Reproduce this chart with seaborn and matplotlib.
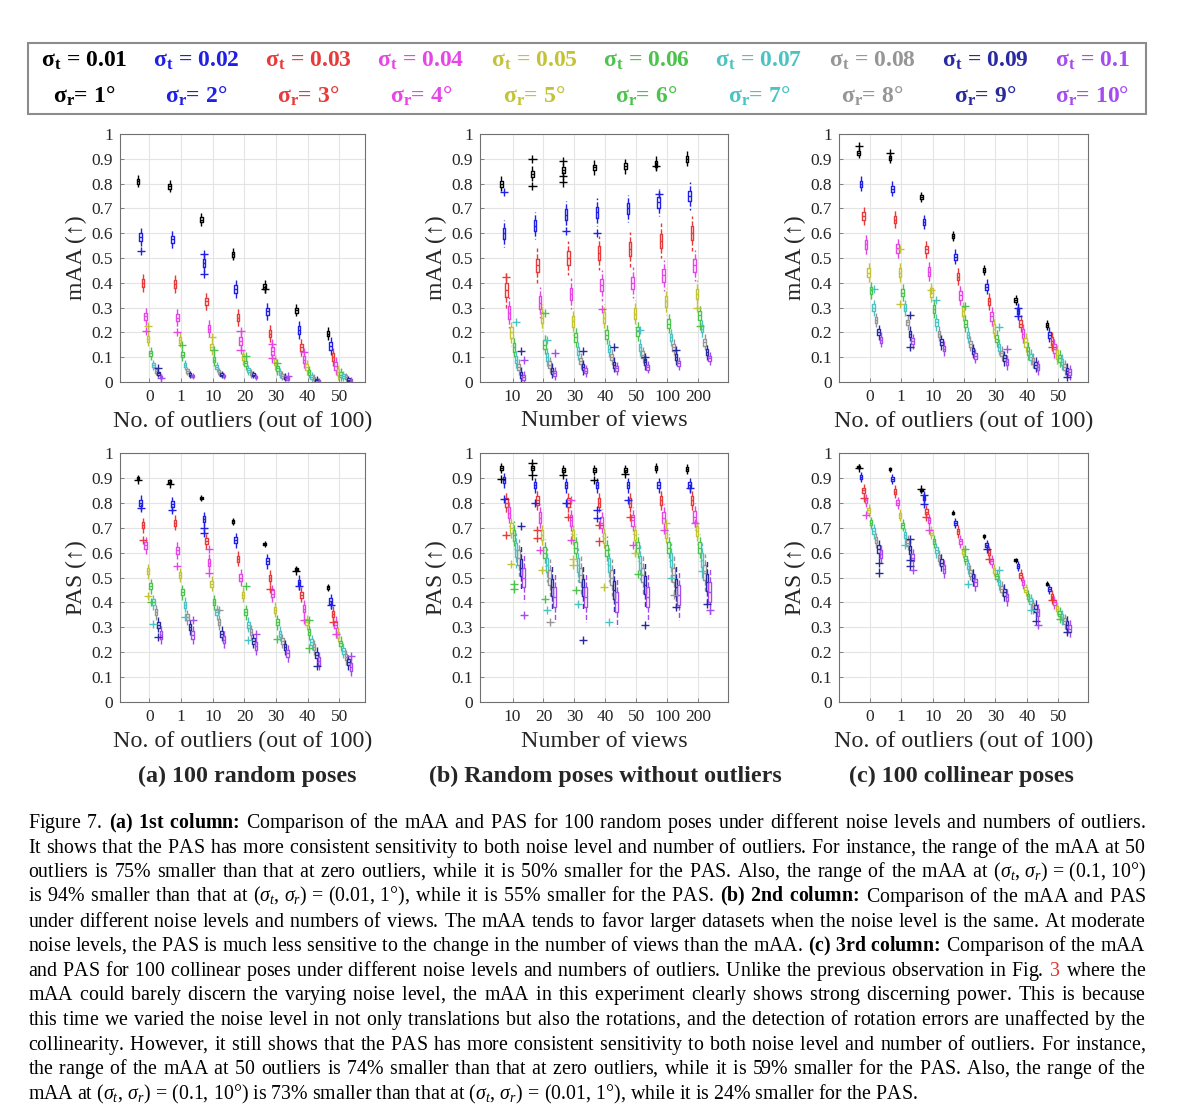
import numpy as np
import pandas as pd
import matplotlib
matplotlib.use('Agg')
import matplotlib.pyplot as plt
import seaborn as sns
from matplotlib.patches import Rectangle

sns.set_theme(style='white')
plt.rcParams['font.family'] = ['Liberation Serif', 'DejaVu Serif']
plt.rcParams['mathtext.fontset'] = 'custom'
plt.rcParams['mathtext.rm'] = 'Liberation Serif'
plt.rcParams['mathtext.it'] = 'Liberation Serif:italic'
plt.rcParams['mathtext.bf'] = 'Liberation Serif:bold'

# noise levels
sig_t = ['0.01', '0.02', '0.03', '0.04', '0.05', '0.06', '0.07', '0.08', '0.09', '0.1']
sig_r = ['1°', '2°', '3°', '4°', '5°', '6°', '7°', '8°', '9°', '10°']
level_colors = ['#000000', '#1f1fe6', '#e83a3a', '#e646e6', '#c3c337',
                '#4cc34c', '#4cc3c3', '#969696', '#2a2aa0', '#a44cf0']

outlier_groups = ['0', '1', '10', '20', '30', '40', '50']
view_groups = ['10', '20', '30', '40', '50', '100', '200']

# medians, one row per group, one value per noise level
maa_rand = [
    [0.81, 0.585, 0.40, 0.265, 0.175, 0.115, 0.07, 0.045, 0.035, 0.02],
    [0.79, 0.575, 0.395, 0.26, 0.17, 0.11, 0.07, 0.045, 0.03, 0.025],
    [0.655, 0.48, 0.325, 0.215, 0.14, 0.09, 0.06, 0.04, 0.03, 0.025],
    [0.515, 0.375, 0.26, 0.165, 0.10, 0.075, 0.05, 0.035, 0.03, 0.02],
    [0.385, 0.285, 0.195, 0.125, 0.08, 0.055, 0.035, 0.025, 0.02, 0.015],
    [0.29, 0.21, 0.14, 0.09, 0.06, 0.04, 0.02, 0.015, 0.008, 0.005],
    [0.195, 0.145, 0.10, 0.065, 0.04, 0.03, 0.025, 0.02, 0.01, 0.008],
]
maa_views = [
    [0.80, 0.60, 0.37, 0.28, 0.20, 0.14, 0.09, 0.06, 0.03, 0.02],
    [0.84, 0.63, 0.47, 0.32, 0.26, 0.15, 0.10, 0.07, 0.045, 0.035],
    [0.855, 0.675, 0.50, 0.355, 0.245, 0.18, 0.125, 0.085, 0.06, 0.045],
    [0.865, 0.685, 0.52, 0.39, 0.26, 0.19, 0.135, 0.10, 0.07, 0.055],
    [0.87, 0.70, 0.535, 0.40, 0.275, 0.205, 0.14, 0.11, 0.08, 0.06],
    [0.88, 0.725, 0.57, 0.43, 0.325, 0.235, 0.18, 0.14, 0.10, 0.075],
    [0.90, 0.75, 0.60, 0.47, 0.355, 0.27, 0.215, 0.16, 0.12, 0.095],
]
maa_coll = [
    [0.925, 0.80, 0.67, 0.555, 0.44, 0.37, 0.30, 0.25, 0.20, 0.17],
    [0.905, 0.78, 0.655, 0.54, 0.44, 0.36, 0.30, 0.24, 0.195, 0.165],
    [0.745, 0.645, 0.535, 0.445, 0.36, 0.295, 0.24, 0.195, 0.16, 0.135],
    [0.59, 0.505, 0.425, 0.35, 0.285, 0.235, 0.19, 0.155, 0.125, 0.105],
    [0.45, 0.385, 0.325, 0.265, 0.215, 0.175, 0.14, 0.115, 0.095, 0.08],
    [0.33, 0.285, 0.235, 0.195, 0.16, 0.125, 0.10, 0.085, 0.07, 0.06],
    [0.23, 0.19, 0.165, 0.135, 0.11, 0.095, 0.08, 0.06, 0.045, 0.04],
]
pas_rand = [
    [0.90, 0.80, 0.71, 0.63, 0.525, 0.465, 0.40, 0.36, 0.31, 0.27],
    [0.885, 0.795, 0.72, 0.61, 0.51, 0.44, 0.39, 0.34, 0.30, 0.27],
    [0.82, 0.735, 0.645, 0.56, 0.475, 0.40, 0.36, 0.32, 0.275, 0.25],
    [0.725, 0.65, 0.575, 0.50, 0.43, 0.36, 0.31, 0.28, 0.245, 0.225],
    [0.635, 0.565, 0.50, 0.435, 0.37, 0.32, 0.275, 0.245, 0.22, 0.195],
    [0.535, 0.48, 0.43, 0.375, 0.32, 0.28, 0.24, 0.22, 0.19, 0.165],
    [0.46, 0.405, 0.355, 0.31, 0.27, 0.235, 0.205, 0.18, 0.16, 0.14],
]
pas_views = [
    [0.94, 0.89, 0.80, 0.76, 0.70, 0.67, 0.61, 0.58, 0.54, 0.50],
    [0.94, 0.87, 0.81, 0.74, 0.67, 0.60, 0.55, 0.50, 0.46, 0.42],
    [0.93, 0.87, 0.80, 0.73, 0.67, 0.62, 0.55, 0.51, 0.46, 0.42],
    [0.93, 0.87, 0.80, 0.72, 0.66, 0.61, 0.55, 0.50, 0.45, 0.40],
    [0.93, 0.87, 0.80, 0.73, 0.67, 0.62, 0.56, 0.51, 0.47, 0.42],
    [0.94, 0.87, 0.81, 0.74, 0.68, 0.62, 0.57, 0.51, 0.46, 0.43],
    [0.935, 0.87, 0.81, 0.745, 0.685, 0.62, 0.57, 0.52, 0.48, 0.44],
]
pas_coll = [
    [0.945, 0.905, 0.85, 0.81, 0.77, 0.72, 0.685, 0.65, 0.615, 0.595],
    [0.935, 0.895, 0.845, 0.80, 0.75, 0.71, 0.67, 0.64, 0.61, 0.58],
    [0.85, 0.82, 0.765, 0.73, 0.68, 0.645, 0.61, 0.58, 0.56, 0.535],
    [0.76, 0.72, 0.685, 0.645, 0.605, 0.575, 0.545, 0.52, 0.50, 0.48],
    [0.665, 0.63, 0.60, 0.565, 0.53, 0.505, 0.48, 0.455, 0.44, 0.42],
    [0.57, 0.545, 0.51, 0.48, 0.45, 0.425, 0.405, 0.385, 0.375, 0.36],
    [0.475, 0.455, 0.425, 0.40, 0.375, 0.355, 0.34, 0.325, 0.31, 0.295],
]

# half box height per noise level
hb_maa_rand = [0.010, 0.015, 0.015, 0.015, 0.012, 0.010, 0.008, 0.007, 0.006, 0.005]
hb_maa_views = [0.012, 0.022, 0.028, 0.025, 0.022, 0.018, 0.015, 0.013, 0.012, 0.010]
hb_maa_coll = [0.008, 0.012, 0.015, 0.018, 0.018, 0.015, 0.013, 0.012, 0.012, 0.012]
hb_pas_rand = [0.005, 0.012, 0.012, 0.014, 0.012, 0.012, 0.012, 0.012, 0.012, 0.015]
hb_pas_views = [0.008, 0.012, 0.018, 0.022, 0.020, 0.022, 0.028, 0.030, 0.035, 0.040]
hb_pas_coll = [0.004, 0.008, 0.010, 0.010, 0.010, 0.010, 0.012, 0.012, 0.015, 0.015]

# outliers: (group index, noise level index, value)
fl_maa_rand = [(0, 1, 0.53), (0, 3, 0.205), (0, 4, 0.225), (0, 8, 0.055), (0, 9, 0.015),
               (1, 3, 0.20), (1, 5, 0.15), (2, 1, 0.515), (2, 1, 0.435), (2, 4, 0.18),
               (2, 5, 0.13), (3, 3, 0.205), (3, 3, 0.13), (3, 5, 0.105), (4, 0, 0.375),
               (4, 3, 0.155), (4, 3, 0.095), (4, 5, 0.075), (4, 9, 0.025), (5, 3, 0.12)]
fl_maa_views = [(0, 1, 0.765), (0, 2, 0.425), (0, 6, 0.24), (0, 8, 0.125), (0, 9, 0.09),
                (1, 0, 0.90), (1, 0, 0.79), (1, 5, 0.28), (1, 6, 0.17), (1, 9, 0.115),
                (2, 0, 0.89), (2, 0, 0.83), (2, 0, 0.805), (2, 1, 0.61), (2, 8, 0.125),
                (3, 1, 0.60), (3, 3, 0.295), (3, 8, 0.14), (4, 6, 0.21), (4, 8, 0.10),
                (5, 0, 0.87), (5, 1, 0.76), (5, 8, 0.13), (6, 4, 0.30), (6, 5, 0.225)]
fl_maa_coll = [(0, 0, 0.95), (0, 6, 0.375), (1, 0, 0.925), (1, 4, 0.535), (1, 4, 0.315),
               (1, 8, 0.27), (1, 8, 0.14), (2, 4, 0.37), (2, 6, 0.33), (3, 5, 0.305),
               (4, 6, 0.22), (4, 9, 0.135), (5, 1, 0.30), (5, 1, 0.265), (6, 2, 0.14),
               (6, 8, 0.02)]
fl_pas_rand = [(0, 0, 0.89), (0, 1, 0.78), (0, 2, 0.65), (0, 4, 0.425), (0, 5, 0.40),
               (0, 6, 0.315), (0, 8, 0.26), (1, 0, 0.875), (1, 1, 0.77), (1, 3, 0.545),
               (1, 6, 0.34), (1, 9, 0.33), (2, 1, 0.70), (2, 1, 0.68), (2, 3, 0.615),
               (2, 3, 0.52), (2, 7, 0.37), (3, 5, 0.465), (3, 6, 0.25), (3, 9, 0.275),
               (4, 2, 0.455), (4, 5, 0.255), (5, 0, 0.525), (5, 1, 0.465), (5, 3, 0.33),
               (5, 5, 0.33), (5, 5, 0.215), (5, 8, 0.145), (6, 1, 0.39), (6, 2, 0.32),
               (6, 3, 0.275), (6, 9, 0.185)]
fl_pas_views = [(0, 0, 0.895), (0, 1, 0.815), (0, 2, 0.67), (0, 4, 0.555), (0, 5, 0.475),
                (0, 5, 0.455), (0, 8, 0.705), (0, 9, 0.35), (1, 0, 0.96), (1, 0, 0.91),
                (1, 1, 0.80), (1, 2, 0.69), (1, 2, 0.66), (1, 3, 0.61), (1, 4, 0.53),
                (1, 5, 0.415), (1, 6, 0.37), (1, 7, 0.32), (2, 0, 0.91), (2, 1, 0.80),
                (2, 2, 0.745), (2, 3, 0.81), (2, 3, 0.65), (2, 4, 0.575), (2, 4, 0.55),
                (2, 5, 0.45), (2, 6, 0.395), (2, 8, 0.25), (3, 0, 0.89), (3, 1, 0.77),
                (3, 1, 0.74), (3, 2, 0.645), (3, 2, 0.71), (3, 4, 0.46), (3, 6, 0.32),
                (4, 0, 0.915), (4, 1, 0.81), (4, 2, 0.745), (4, 3, 0.63), (4, 4, 0.60),
                (4, 5, 0.515), (4, 8, 0.31), (5, 3, 0.69), (5, 4, 0.72), (5, 6, 0.50),
                (5, 7, 0.43), (5, 8, 0.38), (6, 1, 0.86), (6, 3, 0.72), (6, 6, 0.525),
                (6, 8, 0.395), (6, 9, 0.37)]
fl_pas_coll = [(0, 0, 0.94), (0, 2, 0.82), (0, 3, 0.75), (0, 8, 0.56), (0, 8, 0.52),
               (1, 6, 0.63), (1, 8, 0.655), (1, 8, 0.57), (1, 8, 0.545), (1, 9, 0.53),
               (2, 0, 0.855), (2, 1, 0.83), (2, 1, 0.795), (2, 2, 0.745), (2, 3, 0.69),
               (3, 5, 0.615), (3, 6, 0.475), (4, 1, 0.615), (4, 2, 0.575), (4, 6, 0.53),
               (5, 6, 0.37), (5, 8, 0.325), (5, 9, 0.31), (6, 2, 0.41), (6, 5, 0.335),
               (6, 8, 0.28)]

W, H = 1200, 1115
fig = plt.figure(figsize=(W / 100, H / 100), dpi=100)
pal = dict(zip(sig_t, level_colors))


def draw_panel(rect, groups, med, hb, fliers, xlim, ylab, xlab):
    ax = fig.add_axes(rect)
    rows = []
    for gi, g in enumerate(groups):
        for li in range(10):
            m, h = med[gi][li], hb[li]
            for v in (m - 2.5 * h, m - h, m, m + h, m + 2.5 * h):
                rows.append((g, sig_t[li], max(v, 0.0)))
    df = pd.DataFrame(rows, columns=['group', 'level', 'value'])
    fdf = pd.DataFrame([(groups[g], sig_t[l], v) for g, l, v in fliers],
                       columns=['group', 'level', 'value'])
    sns.boxplot(data=df, x='group', y='value', hue='level', order=groups,
                hue_order=sig_t, palette=pal, fill=False, width=0.8, gap=0,
                linewidth=1.0, showcaps=False, showfliers=False,
                whiskerprops={'linestyle': '--'}, legend=False, ax=ax)
    sns.stripplot(data=fdf, x='group', y='value', hue='level', order=groups,
                  hue_order=sig_t, palette=pal, dodge=True, jitter=False,
                  marker='+', size=6, linewidth=1, legend=False, ax=ax)
    ax.set_xlim(*xlim)
    ax.set_ylim(0, 1)
    ax.set_yticks(np.arange(0, 1.01, 0.1))
    ax.set_yticklabels(['0'] + ['%.1f' % v for v in np.arange(0.1, 0.95, 0.1)] + ['1'])
    ax.grid(True, color='#e4e4e4', lw=0.8)
    ax.set_axisbelow(True)
    for s in ax.spines.values():
        s.set_visible(True)
        s.set_color('#707070')
        s.set_linewidth(0.8)
    ax.tick_params(direction='in', length=3, width=0.6, color='#707070',
                   labelsize=12.5, pad=5, bottom=True, left=True)
    ax.set_xlabel(xlab, fontsize=17.3, labelpad=4)
    ax.set_ylabel(ylab, fontsize=17, labelpad=3)
    return ax


col_l = [0.100, 0.400, 0.699]
col_w = [0.204, 0.207, 0.208]
top_b, top_h = 0.6574, 0.2224
bot_b, bot_h = 0.3704, 0.2233
xl_out = 'No. of outliers (out of 100)'
xl_view = 'Number of views'

draw_panel([col_l[0], top_b, col_w[0], top_h], outlier_groups, maa_rand, hb_maa_rand,
           fl_maa_rand, (-0.93, 6.8), 'mAA (↑)', xl_out)
draw_panel([col_l[1], top_b, col_w[1], top_h], view_groups, maa_views, hb_maa_views,
           fl_maa_views, (-1.05, 6.97), 'mAA (↑)', xl_view)
draw_panel([col_l[2], top_b, col_w[2], top_h], outlier_groups, maa_coll, hb_maa_coll,
           fl_maa_coll, (-0.99, 6.96), 'mAA (↑)', xl_out)
draw_panel([col_l[0], bot_b, col_w[0], bot_h], outlier_groups, pas_rand, hb_pas_rand,
           fl_pas_rand, (-0.93, 6.8), 'PAS (↑)', xl_out)
draw_panel([col_l[1], bot_b, col_w[1], bot_h], view_groups, pas_views, hb_pas_views,
           fl_pas_views, (-1.05, 6.97), 'PAS (↑)', xl_view)
draw_panel([col_l[2], bot_b, col_w[2], bot_h], outlier_groups, pas_coll, hb_pas_coll,
           fl_pas_coll, (-0.99, 6.96), 'PAS (↑)', xl_out)

# legend box on top
fig.patches.append(Rectangle((28 / W, 1 - 114 / H), 1118 / W, 71 / H,
                             transform=fig.transFigure, fill=False,
                             edgecolor='#8c8c8c', lw=1.5))
leg_x = [84, 196, 308, 421, 534, 646, 759, 872, 985, 1092]
for i in range(10):
    fig.text(leg_x[i] / W, 1 - 61 / H, 'σ$_\\mathbf{t}$ = ' + sig_t[i], ha='center',
             va='center', fontsize=17, weight='bold', color=level_colors[i])
    fig.text(leg_x[i] / W, 1 - 96 / H, 'σ$_\\mathbf{r}$= ' + sig_r[i], ha='center',
             va='center', fontsize=17, weight='bold', color=level_colors[i])

# sub captions
fig.text(247 / W, 1 - 776 / H, '(a) 100 random poses', ha='center', va='center',
         fontsize=17.3, weight='bold')
fig.text(605 / W, 1 - 776 / H, '(b) Random poses without outliers', ha='center',
         va='center', fontsize=17.3, weight='bold')
fig.text(961 / W, 1 - 776 / H, '(c) 100 collinear poses', ha='center', va='center',
         fontsize=17.3, weight='bold')

# figure caption, justified
m1 = r'$(\sigma_t,\,\sigma_r)\,=\,(0.1,\,10°)$'
m2 = r'$(\sigma_t,\,\sigma_r)\,=\,(0.01,\,1°)$'
caption = [
    [('Figure 7.', 'n'), ('(a) 1st column:', 'b'), ('Comparison of the mAA and PAS for 100 random poses under different noise levels and numbers of outliers.', 'n')],
    [('It shows that the PAS has more consistent sensitivity to both noise level and number of outliers. For instance, the range of the mAA at 50', 'n')],
    [('outliers is 75% smaller than that at zero outliers, while it is 50% smaller for the PAS. Also, the range of the mAA at ' + m1, 'n')],
    [('is 94% smaller than that at ' + m2 + ', while it is 55% smaller for the PAS.', 'n'), ('(b) 2nd column:', 'b'), ('Comparison of the mAA and PAS', 'n')],
    [('under different noise levels and numbers of views. The mAA tends to favor larger datasets when the noise level is the same. At moderate', 'n')],
    [('noise levels, the PAS is much less sensitive to the change in the number of views than the mAA.', 'n'), ('(c) 3rd column:', 'b'), ('Comparison of the mAA', 'n')],
    [('and PAS for 100 collinear poses under different noise levels and numbers of outliers. Unlike the previous observation in Fig.', 'n'), ('3', 'r'), ('where the', 'n')],
    [('mAA could barely discern the varying noise level, the mAA in this experiment clearly shows strong discerning power. This is because', 'n')],
    [('this time we varied the noise level in not only translations but also the rotations, and the detection of rotation errors are unaffected by the', 'n')],
    [('collinearity. However, it still shows that the PAS has more consistent sensitivity to both noise level and number of outliers. For instance,', 'n')],
    [('the range of the mAA at 50 outliers is 74% smaller than that at zero outliers, while it is 59% smaller for the PAS. Also, the range of the', 'n')],
    [('mAA at ' + m1 + ' is 73% smaller than that at ' + m2 + ', while it is 24% smaller for the PAS.', 'n')],
]


def join_words(words, g):
    # one text per style run, word gaps set with mathtext \hspace
    if len(words) == 1:
        return words[0]
    return ('$\\hspace{%.4f}$' % g).join(words).replace('$$', '')


def style_kw(st, size):
    return dict(fontsize=size, va='baseline', family='Liberation Serif',
                weight='bold' if st == 'b' else 'normal',
                color='#e8322a' if st == 'r' else 'black')


cap_size = 14.3
x0, x1 = 28, 1146
g0 = 0.3
renderer = fig.canvas.get_renderer()
for k, line in enumerate(caption):
    yb = 1 - (828 + k * 24.64) / H
    segs = [(text.split(), st) for text, st in line]
    n_gaps = sum(len(w) - 1 for w, _ in segs) + len(segs) - 1
    size = cap_size
    while True:
        t1 = fig.text(0, 0, 'x$\\hspace{1}$x', **style_kw('n', size))
        t2 = fig.text(0, 0, 'x$\\hspace{2}$x', **style_kw('n', size))
        unit = t2.get_window_extent(renderer).width - t1.get_window_extent(renderer).width
        t1.remove()
        t2.remove()
        arts, natural = [], []
        for words, st in segs:
            a = fig.text(0, yb, join_words(words, g0), **style_kw(st, size))
            arts.append(a)
            natural.append(a.get_window_extent(renderer).width - (len(words) - 1) * g0 * unit)
        if k == len(caption) - 1:
            gap = 0.25 * size * 100 / 72
        else:
            gap = (x1 - x0 - sum(natural)) / n_gaps
        if gap >= 0.16 * size * 100 / 72:
            break
        for a in arts:
            a.remove()
        size -= 0.1
    x = x0
    for a, (words, st), nat in zip(arts, segs, natural):
        a.set_text(join_words(words, gap / unit))
        a.set_x(x / W)
        x += nat + (len(words) - 1) * gap + gap

fig.savefig('out.png', dpi=100)
